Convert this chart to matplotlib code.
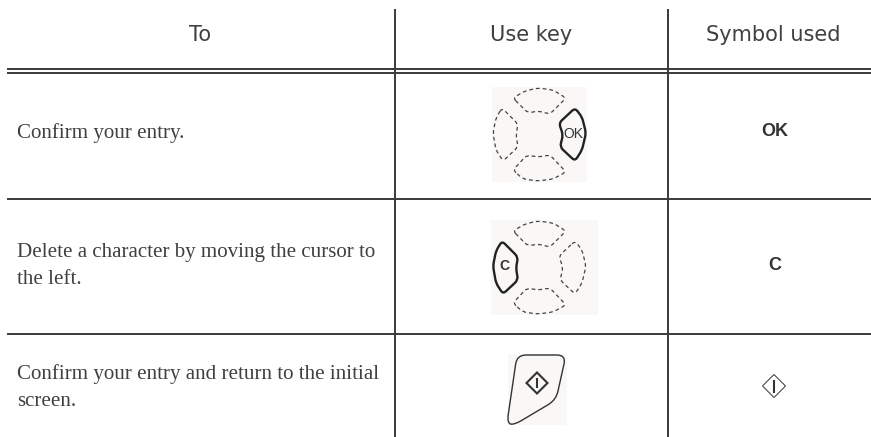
import matplotlib
matplotlib.use("Agg")
import matplotlib.pyplot as plt
from matplotlib.patches import PathPatch, Rectangle, Polygon
from matplotlib.path import Path

W, H = 871, 437
LINE = "#3a3a3a"
TXT = "#404040"
PANEL = "#f9f8f6"

HEADERS = ["To", "Use key", "Symbol used"]
HEADER_X = [200, 531, 773]
ROW_TEXT = [
    ["Confirm your entry."],
    ["Delete a character by moving the cursor to", "the left."],
    ["Confirm your entry and return to the initial", "screen."],
]
ROW_BASE = [[138], [257, 284], [379, 406]]
SYMBOLS = ["OK", "C"]
SYMBOL_Y = [132, 265]

# key outlines in image pixels
TOP = [(513, 98), (525, 91), (538, 88), (553, 90), (566, 98), (550, 114), (538, 111), (528, 113)]
BOTTOM = [(513, 170), (527, 155), (538, 157), (550, 155), (566, 172), (553, 179), (538, 181), (523, 179)]
LEFT = [(502, 108), (518, 124), (516, 135), (518, 147), (503, 161), (496, 150), (493, 133), (496, 118)]
RIGHT = [(575, 108), (582, 117), (586, 133), (582, 150), (575, 161), (560, 147), (563, 135), (559, 123)]
START = [(517, 355), (566, 355), (556, 400), (514, 425), (507, 423)]
shapes = {"top": TOP, "bottom": BOTTOM, "left": LEFT, "right": RIGHT}

fig = plt.figure(figsize=(W / 100, H / 100), dpi=100)
ax = fig.add_axes([0, 0, 1, 1])
ax.set_xlim(0, W)
ax.set_ylim(H, 0)
ax.axis("off")


def rounded(pts, r, dy=0, **kw):
    # closed outline, corners rounded with a quadratic curve
    pts = [(x, y + dy) for x, y in pts]
    verts, codes = [], []
    n = len(pts)
    for i, v in enumerate(pts):
        p, q = pts[i - 1], pts[(i + 1) % n]
        lp = ((p[0] - v[0]) ** 2 + (p[1] - v[1]) ** 2) ** 0.5
        lq = ((q[0] - v[0]) ** 2 + (q[1] - v[1]) ** 2) ** 0.5
        tp, tq = min(r / lp, 0.5), min(r / lq, 0.5)
        a = (v[0] + (p[0] - v[0]) * tp, v[1] + (p[1] - v[1]) * tp)
        b = (v[0] + (q[0] - v[0]) * tq, v[1] + (q[1] - v[1]) * tq)
        verts.append(a)
        codes.append(Path.MOVETO if i == 0 else Path.LINETO)
        verts += [v, b]
        codes += [Path.CURVE3, Path.CURVE3]
    verts.append(verts[0])
    codes.append(Path.CLOSEPOLY)
    ax.add_patch(PathPatch(Path(verts, codes), fill=False, **kw))


def key_pad(x0, y0, w, h, solid, dy):
    ax.add_patch(Rectangle((x0, y0), w, h, fc=PANEL, ec="none", zorder=0))
    for name, pts in shapes.items():
        if name == solid:
            rounded(pts, 4, dy, ec="#222222", lw=1.7, zorder=3)
        else:
            rounded(pts, 4, dy, ec="#444444", lw=0.9, ls=(0, (3, 2.4)), zorder=2)


def diamond(cx, cy, r, lw, bar, bar_lw):
    ax.add_patch(Polygon([(cx - r, cy), (cx, cy - r), (cx + r, cy), (cx, cy + r)],
                         closed=True, fill=False, ec="#333333", lw=lw, zorder=3))
    ax.plot([cx, cx], [cy - bar, cy + bar], color="#333333", lw=bar_lw, zorder=3,
            solid_capstyle="butt")


# table rules
for x in (395, 667.5):
    ax.plot([x, x], [9, H], color=LINE, lw=1.4, solid_capstyle="butt")
for y in (69, 72.7, 199, 333.5):
    ax.plot([7, W], [y, y], color=LINE, lw=1.4, solid_capstyle="butt")

for s, x in zip(HEADERS, HEADER_X):
    ax.text(x, 35, s, fontsize=15, family="DejaVu Sans", ha="center", va="center",
            color=TXT)

for lines, ys in zip(ROW_TEXT, ROW_BASE):
    for s, y in zip(lines, ys):
        ax.text(17, y, s, fontsize=15.15, family="Liberation Serif", ha="left",
                va="baseline", color=TXT)

for s, y in zip(SYMBOLS, SYMBOL_Y):
    ax.text(775, y, s, fontsize=13, family="Liberation Sans", weight="bold",
            ha="center", va="center", color="#333333")

key_pad(492, 87, 95, 95, "right", 0)
ax.text(573, 134, "OK", fontsize=10, family="Liberation Sans", ha="center",
        va="center", color="#333333", zorder=4)
key_pad(491, 220, 107, 95, "left", 133)
ax.text(504, 266, "C", fontsize=10, family="Liberation Sans", weight="bold",
        ha="center", va="center", color="#333333", zorder=4)

# start key
ax.add_patch(Rectangle((508, 354), 59, 71, fc=PANEL, ec="none", zorder=0))
rounded(START, 9, ec="#333333", lw=1.0, zorder=2)
diamond(537, 383, 10.5, 1.5, 5, 1.5)
diamond(774, 386, 11.5, 0.7, 6.5, 1.5)

fig.savefig("out.png", dpi=100)
